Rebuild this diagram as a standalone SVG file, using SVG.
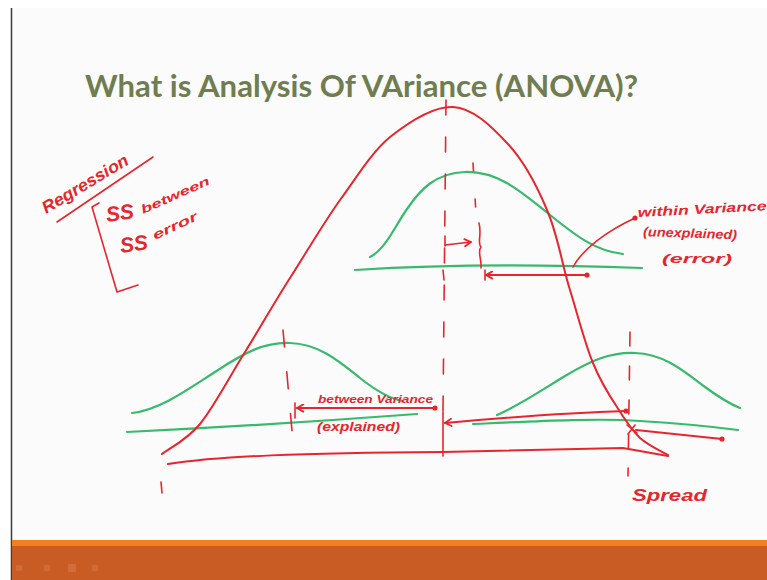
<svg xmlns="http://www.w3.org/2000/svg" width="767" height="580" viewBox="0 0 767 580">
  <style>
    .ink { fill: none; stroke: #e6262c; stroke-width: 2; stroke-linecap: round; stroke-linejoin: round; }
    .thin { stroke-width: 1.6; }
    .dash { stroke-dasharray: 15 22; }
    .grn { fill: none; stroke: #38ba6c; stroke-width: 2.2; stroke-linecap: round; }
    .hand { fill: #e6262c; font-family: "Liberation Sans", Arial, sans-serif; font-style: italic; font-weight: bold; }
    .title { fill: #6f7d50; font-family: Lato, "Open Sans", sans-serif; font-weight: bold; font-size: 30px; }
  </style>
  <defs>
    <marker id="dot" viewBox="0 0 6 6" refX="3" refY="3" markerWidth="6" markerHeight="6" markerUnits="userSpaceOnUse">
      <circle cx="3" cy="3" r="2.6" fill="#e6262c"/>
    </marker>
    <marker id="head" viewBox="0 0 10 10" refX="9" refY="5" markerWidth="9" markerHeight="9" markerUnits="userSpaceOnUse" orient="auto-start-reverse">
      <path d="M2,1 L9,5 L2,9" fill="none" stroke="#e6262c" stroke-width="2" stroke-linecap="round" stroke-linejoin="round"/>
    </marker>
  </defs>

  <!-- slide background -->
  <rect x="0" y="0" width="767" height="580" fill="#ffffff"/>
  <rect x="11" y="8" width="756" height="533" fill="#fbfbfb"/>
  <line x1="11.5" y1="8" x2="11.5" y2="580" stroke="#3e3a38" stroke-width="1.5"/>

  <!-- footer bar -->
  <g id="footer">
    <rect x="12" y="540" width="755" height="40" fill="#c95b24"/>
    <rect x="12" y="540" width="755" height="6" fill="#f2801f"/>
    <g fill="#d8733f" opacity="0.7">
      <rect x="16" y="565" width="6" height="6" rx="1"/>
      <rect x="44" y="565" width="6" height="6" rx="1"/>
      <rect x="68" y="564" width="8" height="8" rx="1"/>
      <rect x="92" y="565" width="6" height="6" rx="1"/>
    </g>
  </g>

  <!-- title -->
  <g id="title">
    <text class="title" x="85" y="97" textLength="553" lengthAdjust="spacingAndGlyphs">What is Analysis Of VAriance (ANOVA)?</text>
  </g>

  <!-- regression notes -->
  <g id="regression-notes">
    <text class="hand" font-size="17" transform="translate(46,214) rotate(-31)" textLength="98" lengthAdjust="spacingAndGlyphs">Regression</text>
    <path class="ink thin" d="M57,222 L153,157"/>
    <path class="ink thin" d="M99,203 L92,207 L117,292 L138,285"/>
    <text class="hand" font-size="21" transform="translate(107,222) rotate(-8)">SS</text>
    <text class="hand" font-size="12" transform="translate(143,214) rotate(-24)" textLength="74" lengthAdjust="spacingAndGlyphs">between</text>
    <text class="hand" font-size="21" transform="translate(121,253) rotate(-8)">SS</text>
    <text class="hand" font-size="13" transform="translate(155,240) rotate(-25)" textLength="48" lengthAdjust="spacingAndGlyphs">error</text>
  </g>

  <!-- sample distributions -->
  <g id="group-top">
    <path class="grn" d="M370,257 C385,250 395,226 407,209 C420,190 435,173 465,172 C500,171 525,195 550,215 C575,235 595,251 623,254"/>
    <path class="grn" d="M355,270 Q480,262 642,268"/>
  </g>
  <g id="group-left">
    <path class="grn" d="M132,413 C160,410 190,388 215,372 C245,352 265,342 290,343 C320,344 340,362 360,378 C375,390 388,398 402,401"/>
    <path class="grn" d="M127,432 Q270,425 417,414"/>
  </g>
  <g id="group-right">
    <path class="grn" d="M497,415 C520,405 545,388 565,376 C590,361 610,352 635,353 C665,354 685,372 705,387 C720,398 730,404 740,408"/>
    <path class="grn" d="M473,424 C540,421 600,418 640,421 C690,424 715,427 738,430"/>
  </g>

  <!-- overall distribution -->
  <g id="overall">
    <path class="ink" d="M162,454 C168,449 186,441 200,424 C214,407 230,376 245,352 C260,328 274,303 290,278 C306,253 323,224 340,200 C357,177 371,153 390,137 C409,122 434,106 453,107 C473,108 491,126 507,143 C523,160 537,186 547,210 C558,235 562,265 570,290 C578,316 585,344 593,363 C601,383 609,395 617,407 C625,420 632,430 640,438 C649,446 663,452 668,455"/>
    <path class="ink" d="M168,464 C220,456 300,453 443,452 L623,448 L668,456"/>
  </g>

  <!-- annotations -->
  <g id="connectors">
    <path class="ink thin dash" d="M446,100 L443,412"/>
    <path class="ink thin" d="M443,412 L443,456"/>
    <path class="ink thin" d="M473,163 L476,214" stroke-dasharray="8 28"/>
    <path class="ink thin" d="M283,330 L293,442" stroke-dasharray="17 25"/>
    <path class="ink thin" d="M630,332 L628,476" stroke-dasharray="14 20"/>
    <path class="ink thin" d="M161,482 L162,493"/>
    <path class="ink thin" d="M443,270 L444,280"/>

    <path class="ink thin" d="M445,236 L445,246"/>
    <path class="ink thin" d="M445,245 L471,242" marker-end="url(#head)"/>
    <path class="ink thin" d="M479,223 C482,235 477,243 481,247 C477,251 482,260 481,268"/>
    <path class="ink thin" d="M485,270 L485,280"/>
    <path class="ink" d="M486,275 L587,275" marker-start="url(#head)" marker-end="url(#dot)"/>
    <path class="ink thin" d="M573,267 C582,250 605,232 635,218" marker-end="url(#dot)"/>

    <path class="ink thin" d="M295,403 L295,418"/>
    <path class="ink" d="M297,408 L435,408" marker-start="url(#head)" marker-end="url(#dot)"/>
    <path class="ink" d="M445,423 C500,418 560,413 626,411" marker-start="url(#head)" marker-end="url(#dot)"/>
    <path class="ink" d="M636,430 L722,439" marker-end="url(#dot)"/>
    <path class="ink thin" d="M627,425 L637,433 M635,425 L628,434"/>
  </g>

  <!-- handwritten labels -->
  <g id="labels">
    <text class="hand" font-size="13" transform="translate(638,217) rotate(-3)" textLength="129" lengthAdjust="spacingAndGlyphs">within Variance</text>
    <text class="hand" font-size="13" transform="translate(643,236) rotate(2)" textLength="94" lengthAdjust="spacingAndGlyphs">(unexplained)</text>
    <text class="hand" font-size="13" x="662" y="263" textLength="70" lengthAdjust="spacingAndGlyphs">(error)</text>
    <text class="hand" font-size="11" x="318" y="403" textLength="115" lengthAdjust="spacingAndGlyphs">between Variance</text>
    <text class="hand" font-size="13" x="317" y="431" textLength="83" lengthAdjust="spacingAndGlyphs">(explained)</text>
    <text class="hand" font-size="17" x="632" y="501" textLength="75" lengthAdjust="spacingAndGlyphs">Spread</text>
  </g>
</svg>
